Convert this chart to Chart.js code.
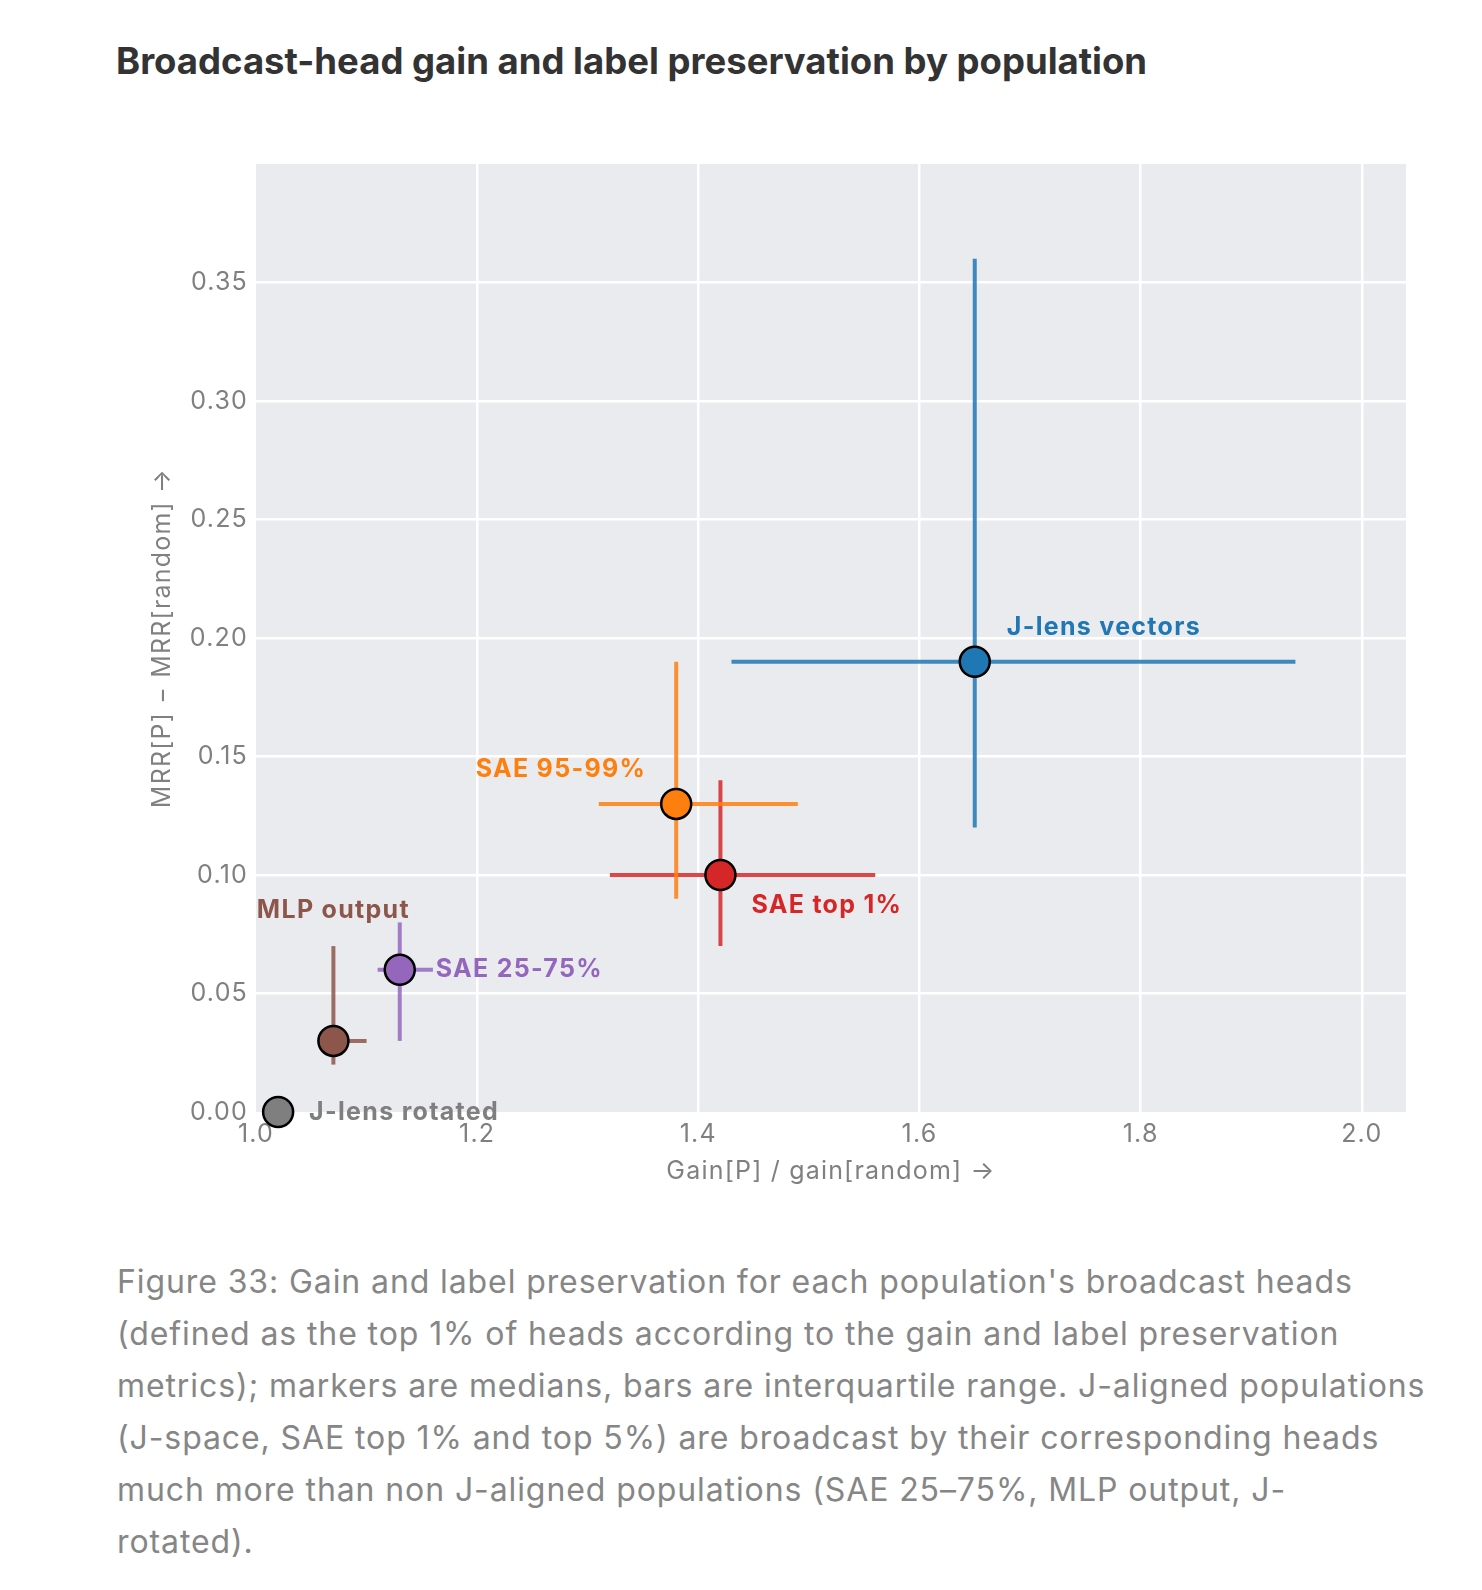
<!DOCTYPE html>
<html>
<head>
<meta charset="utf-8">
<script src="https://cdn.jsdelivr.net/npm/chart.js@4.4.1/dist/chart.umd.min.js"></script>
<style>
  html, body { margin: 0; padding: 0; background: #fff; }
  body { width: 1482px; height: 1590px; position: relative; overflow: hidden; font-family: Inter, "Noto Sans", sans-serif; }
  #title { position: absolute; left: 116px; top: 43px; margin: 0; font-size: 36.5px; line-height: 1; font-weight: 700; color: #333; white-space: nowrap; }
  #wrap { position: absolute; left: 0; top: 120px; width: 1482px; height: 1100px; }
  #caption { position: absolute; left: 117px; top: 1256px; margin: 0; font-size: 32px; letter-spacing: 0.9px; line-height: 52px; color: #868686; white-space: nowrap; }
</style>
</head>
<body>
<h2 id="title">Broadcast-head gain and label preservation by population</h2>
<div id="wrap"><canvas id="chart"></canvas></div>
<p id="caption">Figure 33: Gain and label preservation for each population's broadcast heads<br>(defined as the top 1% of heads according to the gain and label preservation<br>metrics); markers are medians, bars are interquartile range. J-aligned populations<br>(J-space, SAE top 1% and top 5%) are broadcast by their corresponding heads<br>much more than non J-aligned populations (SAE 25–75%, MLP output, J-<br>rotated).</p>
<script>
// populations, medians and interquartile ranges
var populations = ["J-lens vectors", "SAE 95-99%", "SAE top 1%", "SAE 25-75%", "MLP output", "J-lens rotated"];
var gainMed = [1.65, 1.38, 1.42, 1.13, 1.07, 1.02];
var gainLo  = [1.43, 1.31, 1.32, 1.11, 1.06, 1.02];
var gainHi  = [1.94, 1.49, 1.56, 1.16, 1.10, 1.02];
var mrrMed  = [0.19, 0.13, 0.10, 0.06, 0.03, 0.00];
var mrrLo   = [0.12, 0.09, 0.07, 0.03, 0.02, 0.00];
var mrrHi   = [0.36, 0.19, 0.14, 0.08, 0.07, 0.00];
var xTicks = [1.0, 1.2, 1.4, 1.6, 1.8, 2.0];
var yTicks = [0.00, 0.05, 0.10, 0.15, 0.20, 0.25, 0.30, 0.35];

var colors = ["#1f77b4", "#ff7f0e", "#d62728", "#9467bd", "#8c564b", "#7f7f7f"];
var barColors = ["rgba(31,119,180,0.85)", "rgba(255,127,14,0.85)", "rgba(214,39,40,0.85)", "rgba(148,103,189,0.85)", "rgba(140,86,75,0.85)", "rgba(127,127,127,0.85)"];
// label placement relative to the marker, in pixels
var labelPlace = [
  { dx: 32, dy: -34, align: "left" },
  { dx: -30, dy: -34, align: "right" },
  { dx: 31, dy: 30, align: "left" },
  { dx: 36, dy: 0, align: "left" },
  { dx: 0, dy: -130, align: "center" },
  { dx: 31, dy: 0, align: "left" }
];

var datasets = [];
populations.forEach(function (name, i) {
  datasets.push({
    label: name,
    data: [{ x: gainMed[i], y: mrrMed[i] }],
    backgroundColor: colors[i],
    borderColor: "#000",
    borderWidth: 2.5,
    pointRadius: 15,
    pointHoverRadius: 15,
    clip: false,
    order: 0
  });
});
populations.forEach(function (name, i) {
  datasets.push({
    label: name + " gain IQR",
    data: [{ x: gainLo[i], y: mrrMed[i] }, { x: gainHi[i], y: mrrMed[i] }],
    showLine: true,
    borderColor: barColors[i],
    borderWidth: 4,
    pointRadius: 0,
    order: 1
  });
  datasets.push({
    label: name + " MRR IQR",
    data: [{ x: gainMed[i], y: mrrLo[i] }, { x: gainMed[i], y: mrrHi[i] }],
    showLine: true,
    borderColor: barColors[i],
    borderWidth: 4,
    pointRadius: 0,
    order: 1
  });
});

var plotBg = {
  id: "plotBg",
  beforeDraw: function (chart) {
    var a = chart.chartArea, ctx = chart.ctx;
    ctx.letterSpacing = "1.2px";
    ctx.save();
    ctx.fillStyle = "#eaebee";
    ctx.fillRect(a.left, a.top, a.right - a.left, a.bottom - a.top);
    ctx.restore();
  }
};

var pointLabels = {
  id: "pointLabels",
  afterDatasetsDraw: function (chart) {
    var ctx = chart.ctx, xs = chart.scales.x, ys = chart.scales.y;
    ctx.save();
    ctx.font = "700 25px Inter, 'Noto Sans', sans-serif";
    ctx.letterSpacing = "1.3px";
    ctx.textBaseline = "middle";
    populations.forEach(function (name, i) {
      var p = labelPlace[i];
      ctx.fillStyle = colors[i];
      ctx.textAlign = p.align;
      ctx.fillText(name, xs.getPixelForValue(gainMed[i]) + p.dx, ys.getPixelForValue(mrrMed[i]) + p.dy);
    });
    ctx.restore();
  }
};

function gridColor(edgeValues) {
  return function (c) {
    if (c.tick && edgeValues.indexOf(c.tick.value) >= 0) return "rgba(0,0,0,0)";
    return "#ffffff";
  };
}

new Chart(document.getElementById("chart"), {
  type: "scatter",
  data: { datasets: datasets },
  options: {
    responsive: true,
    maintainAspectRatio: false,
    animation: false,
    layout: { padding: { left: 0, right: 76, top: 44, bottom: 0 } },
    plugins: { legend: { display: false }, tooltip: { enabled: false } },
    scales: {
      x: {
        type: "linear",
        min: 1.0,
        max: 2.04,
        afterBuildTicks: function (s) { s.ticks = xTicks.map(function (v) { return { value: v }; }); },
        afterFit: function (s) { s.height = 108; },
        border: { display: false },
        grid: { color: gridColor([1.0]), lineWidth: 2.5, drawTicks: false },
        ticks: {
          padding: 7,
          color: "#808080",
          font: { family: "Inter", size: 25 },
          callback: function (v) { return v.toFixed(1); }
        },
        title: {
          display: true,
          text: "Gain[P] / gain[random] →",
          color: "#808080",
          font: { family: "Inter", size: 25 },
          padding: { top: 0, bottom: 34 }
        }
      },
      y: {
        type: "linear",
        min: 0,
        max: 0.40,
        afterBuildTicks: function (s) { s.ticks = yTicks.map(function (v) { return { value: v }; }); },
        afterFit: function (s) { s.width = 256; },
        border: { display: false },
        grid: { color: gridColor([0]), lineWidth: 2.5, drawTicks: false },
        ticks: {
          padding: 8,
          color: "#808080",
          font: { family: "Inter", size: 25 },
          callback: function (v) { return v.toFixed(2); }
        },
        title: {
          display: true,
          text: "MRR[P] − MRR[random] →",
          color: "#808080",
          font: { family: "Inter", size: 25 },
          padding: { top: 147, bottom: 0 }
        }
      }
    }
  },
  plugins: [plotBg, pointLabels]
});
</script>
</body>
</html>
